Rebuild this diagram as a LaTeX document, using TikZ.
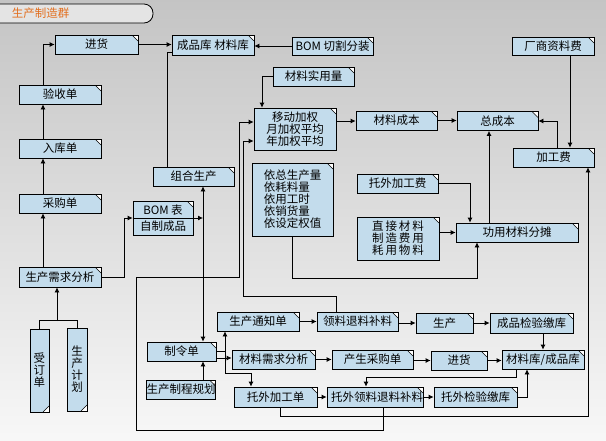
\documentclass[tikz,border=0pt]{standalone}
\usepackage{fontspec}
\setmainfont{Noto Sans CJK SC}
\usetikzlibrary{arrows.meta,positioning,calc}
\definecolor{boxblue}{RGB}{195,220,236}
\definecolor{tabgray}{RGB}{228,228,228}
\definecolor{taborange}{RGB}{226,110,30}

\begin{document}
\begin{tikzpicture}[x=1pt, y=-1pt,
  doc/.style={draw, fill=boxblue, line width=0.8pt, minimum width=82pt, minimum height=19pt,
              inner sep=1pt, font=\fontsize{11.5}{12}\selectfont, align=center,
              path picture={
                \fill[white] ([xshift=-6pt]path picture bounding box.north east)
                  -- (path picture bounding box.north east)
                  -- ([yshift=-6pt]path picture bounding box.north east) -- cycle;
                \draw[line width=0.6pt] ([xshift=-6pt]path picture bounding box.north east)
                  -- ([yshift=-6pt]path picture bounding box.north east);}},
  vdoc/.style={draw, fill=boxblue, line width=0.8pt, minimum width=19pt, minimum height=83pt,
               inner sep=1pt, font=\fontsize{11.5}{12}\selectfont, align=center,
               path picture={
                 \fill[white] ([xshift=-6pt]path picture bounding box.south east)
                   -- (path picture bounding box.south east)
                   -- ([yshift=6pt]path picture bounding box.south east) -- cycle;
                 \draw[line width=0.6pt] ([xshift=-6pt]path picture bounding box.south east)
                   -- ([yshift=6pt]path picture bounding box.south east);}},
  titletab/.style={draw, fill=tabgray, line width=0.8pt, rounded corners=9pt, minimum height=19pt,
                   text width=119pt, inner xsep=22pt, align=left, text=taborange,
                   font=\fontsize{11.5}{12}\selectfont},
  arr/.style={-{Latex[length=5pt,width=5pt]}, line width=0.8pt},
  conn/.style={line width=0.8pt}
]
\useasboundingbox (0,0) rectangle (606,440);
\shade[top color=black!23, bottom color=black!3] (0,0) rectangle (606,440);

\node[titletab] (title) at (71.5,13.5) {生产制造群};

% purchase column
\node[doc, minimum width=83pt] (jinhuoA) at (96.5,44.5) {进货};
\node[doc] (yanshou) at (60,94.5) {验收单};
\node[doc] (ruku) at (60,148.5) {入库单};
\node[doc] (caigou) at (60,203.5) {采购单};
\node[doc, minimum height=20pt] (xuqiu) at (60,277) {生产需求分析};
\node[vdoc] (shouding) at (39.5,370.5) {受\\订\\单};
\node[vdoc, minimum width=20pt] (jihua) at (77,369.5) {生\\产\\计\\划};

% stock and cost
\node[doc, minimum height=20pt] (kucun) at (213,45) {成品库\ 材料库};
\node[doc, minimum width=81pt, minimum height=18pt] (bomqg) at (332.5,46) {BOM\ 切割分装};
\node[doc, minimum width=81pt] (shiyong) at (313.5,76.5) {材料实用量};
\node[doc, minimum height=42pt] (jiaquan) at (295,129) {移动加权\\月加权平均\\年加权平均};
\node[doc, minimum width=81pt] (clcb) at (396.5,120.5) {材料成本};
\node[doc, minimum width=81pt] (zcb) at (497.5,121) {总成本};
\node[doc, minimum height=18pt] (csf) at (553,46) {厂商资料费};
\node[doc, minimum width=81pt] (jgf) at (553.5,157.5) {加工费};
\node[doc, minimum width=81pt] (zuhe) at (193.5,176.5) {组合生产};
\node[doc, minimum width=60pt, minimum height=34pt] (bom) at (163,218) {BOM\ 表\\[4pt]自制成品};
\node[doc, minimum width=81pt, minimum height=73pt, align=left] (yiju) at (292.5,199.5)
  {依总生产量\\依耗料量\\依用工时\\依销货量\\依设定权值};
\node[doc, minimum width=81pt] (twjgf) at (397.5,183.5) {托外加工费};
\node[doc, minimum height=43pt] (zjcl) at (398,238.5) {直\,接\,材\,料\\制\,造\,费\,用\\耗\,用\,物\,料};
\node[doc, minimum width=122pt] (gyft) at (517,232.5) {功用材料分摊};

% production orders
\node[doc, minimum width=69pt] (zhiling) at (181.5,351.5) {制令单};
\node[doc, minimum width=68pt, inner sep=0pt] (zcgh) at (181,389.5) {生产制程规划};
\node[doc] (tzd) at (258,321.5) {生产通知单};
\node[doc, minimum width=81pt] (lltl) at (357.5,321.5) {领料退料补料};
\node[doc, minimum width=57pt, minimum height=20pt] (sc) at (444.5,323) {生产};
\node[doc, minimum width=83pt, minimum height=20pt] (cpjy) at (531.5,323) {成品检验缴库};
\node[doc, minimum width=83pt] (xqfx) at (273.5,359.5) {材料需求分析};
\node[doc, minimum width=81pt] (cgd) at (372.5,359.5) {产生采购单};
\node[doc, minimum width=56pt] (jinhuoB) at (459,360.5) {进货};
\node[doc] (clk) at (543,359.5) {材料库/成品库};
\node[doc, minimum width=83pt, minimum height=20pt] (twjgd) at (275.5,397) {托外加工单};
\node[doc, minimum height=20pt, inner sep=0pt] (twll) at (375,397) {\hspace*{4pt}托外领料退料补料};
\node[doc, minimum width=83pt, minimum height=20pt] (twjy) at (475.5,397) {托外检验缴库};

\coordinate (zl) at (203,0);
\coordinate (brk) at (57,321);

% left column
\draw[arr] ([xshift=-17pt]yanshou.north) |- (jinhuoA.west);
\draw[arr] (jinhuoA.east) -- (jinhuoA.east -| kucun.west);
\draw[arr] ([xshift=-17pt]ruku.north) -- ([xshift=-17pt]yanshou.south);
\draw[arr] ([xshift=-17pt]caigou.north) -- ([xshift=-17pt]ruku.south);
\draw[arr] ([xshift=-17pt]xuqiu.north) -- ([xshift=-17pt]caigou.south);
\draw[conn] (shouding.north) -- ++(0,-8) -| (jihua.north);
\draw[arr] (brk) -- (brk |- xuqiu.south);
\draw[arr] (xuqiu.east) -- (124,277) |- (bom.west);
\draw[conn] (bom.west) -- (bom.east);
\draw[arr] (bom.east) -- (bom.east -| zl);
\draw[arr, {Latex[length=5pt,width=5pt]}-{Latex[length=5pt,width=5pt]}] (zl |- zuhe.south) -- (zl |- zhiling.north);
\draw[arr] (zl |- zcgh.north) -- (zl |- zhiling.south);
\draw[conn] ([xshift=-26.5pt]zuhe.north) |- ([yshift=-7pt]kucun.west);

% cost part
\draw[arr] (bomqg.west) -- (bomqg.west -| kucun.east);
\draw[arr] (shiyong.west) -| ([xshift=-33pt]jiaquan.north);
\draw[arr] ([yshift=8pt]jiaquan.east) -- ([yshift=8pt]jiaquan.east -| clcb.west);
\draw[arr] (clcb.east) -- (clcb.east -| zcb.west);
\draw[arr] ([xshift=17pt]csf.south) -- ([xshift=17pt]csf.south |- jgf.north);
\draw[arr] ([xshift=3.5pt]jgf.north) |- (zcb.east);
\draw[arr] ([xshift=-28pt]gyft.north) -- ([xshift=-28pt]gyft.north |- zcb.south);
\draw[arr] (twjgf.east) -| ([xshift=-47pt]gyft.north);
\draw[arr] (zjcl.east |- gyft.west) -- (gyft.west);
\draw[arr] (yiju.south) -- (292.5,278) -| ([xshift=-40pt]gyft.south);

% feedback loops
\draw[arr] ([xshift=8pt]twll.south) -- ++(0,23) -| (136,277) -| (239,122) -- ([yshift=7pt]jiaquan.west);
\draw[arr] ([xshift=-21.5pt]lltl.north) |- (243,296) |- ([yshift=-12pt]jiaquan.west);
\draw[arr] ([xshift=4.5pt]twjgd.south) -- ++(0,9) -| ([xshift=34.5pt]jgf.south);

% production flow
\draw[arr] (zhiling.east) -| ([xshift=-33pt]tzd.south);
\draw[arr] ([yshift=-6.5pt]zhiling.east) -- ([yshift=-6.5pt]zhiling.east -| xqfx.west);
\draw[arr] (zhiling.east) -| (225,373) -| ([xshift=-24.5pt]twjgd.north);
\draw[arr] (tzd.east) -- (lltl.west);
\draw[arr] (lltl.east |- sc.west) -- (sc.west);
\draw[arr] (sc.east) -- (cpjy.west);
\draw[arr] ([xshift=11.5pt]cpjy.south) -- ([xshift=11.5pt]cpjy.south |- clk.north);
\draw[arr] (xqfx.east) -- (cgd.west);
\draw[arr] (cgd.east |- jinhuoB.west) -- (jinhuoB.west);
\draw[arr] (jinhuoB.east) -- (jinhuoB.east -| clk.west);
\draw[arr] ([xshift=-27pt]clk.south) -- ++(0,8) -| ([xshift=-9pt]twll.north);
\draw[arr] (twjgd.east) -- (twll.west);
\draw[arr] (twll.east) -- (twjy.west);
\draw[arr] (twjy.east) -| ([xshift=-16pt]clk.south);

\end{tikzpicture}
\end{document}
